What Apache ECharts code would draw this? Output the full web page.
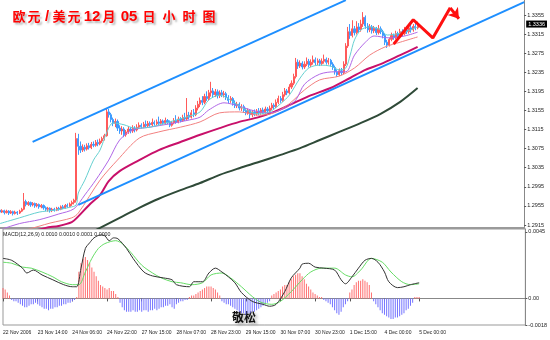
<!DOCTYPE html>
<html><head><meta charset="utf-8">
<script src="https://cdn.jsdelivr.net/npm/echarts/dist/echarts.min.js"></script>
<style>html,body{margin:0;padding:0;background:#fff}#c{width:550px;height:340px}</style>
</head><body><div id="c"></div><script>
// ---------- data ----------
const barCount = 242; // hourly slots on the axis (data fills the first 193)
const tickLabels = ["22 Nov 2006","23 Nov 14:00","24 Nov 06:00","24 Nov 22:00","27 Nov 15:00","28 Nov 07:00","28 Nov 23:00","29 Nov 15:00","30 Nov 07:00","30 Nov 23:00","1 Dec 15:00","4 Dec 00:00","5 Dec 00:00"];
const priceTicks = [1.2915,1.2955,1.2995,1.3035,1.3075,1.3115,1.3155,1.3195,1.3235,1.3275,1.3315,1.3355];
const macdTicks = [0.0045, 0, -0.0018];
const lastPrice = 1.3336;
// [open, close, low, high]
const candles = [
[1.2946,1.2942,1.2938,1.2949],[1.2942,1.2945,1.2940,1.2948],[1.2945,1.2941,1.2937,1.2947],[1.2941,1.2944,1.2939,1.2947],
[1.2944,1.2940,1.2936,1.2946],[1.2940,1.2943,1.2938,1.2946],[1.2943,1.2939,1.2935,1.2945],[1.2939,1.2942,1.2937,1.2945],
[1.2942,1.2940,1.2936,1.2944],[1.2940,1.2944,1.2938,1.2947],[1.2944,1.2948,1.2942,1.2951],[1.2948,1.2964,1.2946,1.2982],
[1.2964,1.2958,1.2954,1.2968],[1.2958,1.2962,1.2955,1.2965],[1.2962,1.2957,1.2953,1.2964],[1.2957,1.2960,1.2954,1.2963],
[1.2960,1.2955,1.2951,1.2962],[1.2955,1.2958,1.2952,1.2961],[1.2958,1.2953,1.2949,1.2960],[1.2953,1.2956,1.2950,1.2959],
[1.2956,1.2951,1.2947,1.2958],[1.2951,1.2948,1.2944,1.2954],[1.2948,1.2950,1.2943,1.2953],[1.2950,1.2945,1.2941,1.2952],
[1.2945,1.2948,1.2942,1.2951],[1.2948,1.2946,1.2943,1.2951],[1.2946,1.2950,1.2944,1.2953],[1.2950,1.2948,1.2945,1.2953],
[1.2948,1.2953,1.2946,1.2956],[1.2953,1.2951,1.2948,1.2957],[1.2951,1.2956,1.2949,1.2959],[1.2956,1.2954,1.2951,1.2960],
[1.2954,1.2959,1.2952,1.2962],[1.2959,1.2962,1.2955,1.2966],[1.2962,1.2967,1.2958,1.2970],[1.2967,1.3096,1.2962,1.3108],
[1.3096,1.3080,1.3062,1.3106],[1.3080,1.3072,1.3066,1.3090],[1.3072,1.3078,1.3068,1.3084],[1.3078,1.3074,1.3069,1.3083],
[1.3074,1.3081,1.3071,1.3086],[1.3081,1.3077,1.3073,1.3087],[1.3077,1.3084,1.3074,1.3089],[1.3084,1.3082,1.3078,1.3090],
[1.3082,1.3088,1.3079,1.3093],[1.3088,1.3085,1.3080,1.3094],[1.3085,1.3091,1.3082,1.3096],[1.3091,1.3096,1.3087,1.3100],
[1.3096,1.3102,1.3092,1.3106],[1.3102,1.3152,1.3100,1.3160],[1.3152,1.3146,1.3140,1.3158],[1.3146,1.3136,1.3130,1.3150],
[1.3136,1.3128,1.3122,1.3140],[1.3128,1.3132,1.3120,1.3138],[1.3132,1.3118,1.3112,1.3136],[1.3118,1.3112,1.3106,1.3124],
[1.3112,1.3116,1.3104,1.3122],[1.3116,1.3104,1.3099,1.3120],[1.3104,1.3110,1.3100,1.3114],[1.3110,1.3116,1.3106,1.3122],
[1.3116,1.3112,1.3107,1.3120],[1.3112,1.3118,1.3108,1.3124],[1.3118,1.3114,1.3109,1.3122],[1.3114,1.3120,1.3111,1.3126],
[1.3120,1.3124,1.3116,1.3130],[1.3124,1.3121,1.3117,1.3128],[1.3121,1.3126,1.3118,1.3131],[1.3126,1.3123,1.3119,1.3134],
[1.3123,1.3128,1.3120,1.3133],[1.3128,1.3125,1.3121,1.3132],[1.3125,1.3130,1.3122,1.3138],[1.3130,1.3127,1.3123,1.3134],
[1.3127,1.3131,1.3124,1.3136],[1.3131,1.3128,1.3124,1.3142],[1.3128,1.3133,1.3125,1.3137],[1.3133,1.3129,1.3125,1.3136],
[1.3129,1.3134,1.3126,1.3140],[1.3134,1.3130,1.3126,1.3137],[1.3130,1.3124,1.3120,1.3134],[1.3124,1.3129,1.3121,1.3133],
[1.3129,1.3134,1.3126,1.3139],[1.3134,1.3131,1.3127,1.3145],[1.3131,1.3137,1.3128,1.3142],[1.3137,1.3134,1.3130,1.3141],
[1.3134,1.3140,1.3131,1.3146],[1.3140,1.3137,1.3133,1.3150],[1.3137,1.3145,1.3134,1.3181],[1.3145,1.3141,1.3136,1.3152],
[1.3141,1.3150,1.3138,1.3156],[1.3150,1.3146,1.3141,1.3158],[1.3146,1.3160,1.3143,1.3166],[1.3160,1.3168,1.3155,1.3175],
[1.3168,1.3176,1.3162,1.3182],[1.3176,1.3172,1.3166,1.3185],[1.3172,1.3184,1.3168,1.3190],[1.3184,1.3180,1.3175,1.3195],
[1.3180,1.3192,1.3176,1.3198],[1.3192,1.3196,1.3184,1.3215],[1.3196,1.3188,1.3182,1.3202],[1.3188,1.3194,1.3183,1.3200],
[1.3194,1.3186,1.3180,1.3199],[1.3186,1.3192,1.3181,1.3197],[1.3192,1.3188,1.3183,1.3198],[1.3188,1.3190,1.3182,1.3196],
[1.3190,1.3182,1.3177,1.3194],[1.3182,1.3176,1.3170,1.3187],[1.3176,1.3180,1.3171,1.3185],[1.3180,1.3170,1.3165,1.3183],
[1.3170,1.3165,1.3160,1.3176],[1.3165,1.3168,1.3160,1.3173],[1.3168,1.3160,1.3155,1.3172],[1.3160,1.3163,1.3154,1.3168],
[1.3163,1.3155,1.3150,1.3167],[1.3155,1.3150,1.3145,1.3160],[1.3150,1.3155,1.3146,1.3159],[1.3155,1.3146,1.3138,1.3158],
[1.3146,1.3152,1.3141,1.3156],[1.3152,1.3148,1.3143,1.3157],[1.3148,1.3154,1.3144,1.3158],[1.3154,1.3150,1.3145,1.3160],
[1.3150,1.3156,1.3146,1.3160],[1.3156,1.3152,1.3147,1.3161],[1.3152,1.3158,1.3148,1.3163],[1.3158,1.3154,1.3149,1.3162],
[1.3154,1.3160,1.3150,1.3165],[1.3160,1.3166,1.3156,1.3171],[1.3166,1.3163,1.3158,1.3170],[1.3163,1.3172,1.3160,1.3178],
[1.3172,1.3180,1.3168,1.3186],[1.3180,1.3176,1.3171,1.3185],[1.3176,1.3188,1.3173,1.3194],[1.3188,1.3196,1.3184,1.3202],
[1.3196,1.3192,1.3187,1.3200],[1.3192,1.3204,1.3189,1.3210],[1.3204,1.3212,1.3200,1.3218],[1.3212,1.3226,1.3208,1.3232],
[1.3226,1.3256,1.3222,1.3265],[1.3256,1.3248,1.3242,1.3262],[1.3248,1.3254,1.3244,1.3260],[1.3254,1.3246,1.3241,1.3258],
[1.3246,1.3252,1.3242,1.3258],[1.3252,1.3258,1.3248,1.3266],[1.3258,1.3250,1.3245,1.3263],[1.3250,1.3256,1.3246,1.3262],
[1.3256,1.3261,1.3251,1.3270],[1.3261,1.3255,1.3250,1.3266],[1.3255,1.3259,1.3250,1.3264],[1.3259,1.3253,1.3248,1.3263],
[1.3253,1.3258,1.3249,1.3264],[1.3258,1.3262,1.3253,1.3272],[1.3262,1.3256,1.3251,1.3266],[1.3256,1.3260,1.3251,1.3265],
[1.3260,1.3252,1.3247,1.3263],[1.3252,1.3245,1.3240,1.3256],[1.3245,1.3236,1.3230,1.3249],[1.3236,1.3230,1.3225,1.3241],
[1.3230,1.3238,1.3227,1.3243],[1.3238,1.3234,1.3229,1.3244],[1.3234,1.3252,1.3231,1.3258],[1.3252,1.3290,1.3248,1.3296],
[1.3290,1.3320,1.3286,1.3330],[1.3320,1.3312,1.3305,1.3336],[1.3312,1.3326,1.3308,1.3344],[1.3326,1.3318,1.3312,1.3332],
[1.3318,1.3330,1.3314,1.3342],[1.3330,1.3324,1.3318,1.3338],[1.3324,1.3336,1.3320,1.3345],[1.3336,1.3350,1.3330,1.3361],
[1.3350,1.3332,1.3326,1.3354],[1.3332,1.3324,1.3318,1.3338],[1.3324,1.3330,1.3319,1.3336],[1.3330,1.3322,1.3316,1.3334],
[1.3322,1.3327,1.3317,1.3332],[1.3327,1.3318,1.3313,1.3330],[1.3318,1.3326,1.3314,1.3334],[1.3326,1.3320,1.3315,1.3331],
[1.3320,1.3312,1.3306,1.3324],[1.3312,1.3298,1.3292,1.3316],[1.3298,1.3292,1.3286,1.3303],[1.3292,1.3304,1.3289,1.3308],
[1.3304,1.3312,1.3300,1.3318],[1.3312,1.3308,1.3303,1.3316],[1.3308,1.3316,1.3304,1.3322],[1.3316,1.3312,1.3307,1.3320],
[1.3312,1.3320,1.3308,1.3326],[1.3320,1.3316,1.3310,1.3325],[1.3316,1.3324,1.3312,1.3330],[1.3324,1.3320,1.3315,1.3332],
[1.3320,1.3328,1.3316,1.3334],[1.3328,1.3324,1.3318,1.3338],[1.3324,1.3331,1.3320,1.3336],[1.3331,1.3328,1.3323,1.3340],
[1.3328,1.3336,1.3325,1.3341]
];
// moving averages as [bar, price]
const maCyan = [[0,1.2918],[9,1.2930],[18,1.2942],[25,1.2946],[32,1.2952],[35,1.2957],[36,1.2982],[39,1.3009],[43,1.3051],[46,1.3072],[49,1.3108],[52,1.3129],[57,1.3125],[62,1.3118],[69,1.3120],[78,1.3131],[87,1.3143],[92,1.3152],[96,1.3177],[101,1.3187],[106,1.3177],[110,1.3164],[115,1.3152],[119,1.3148],[124,1.3152],[129,1.3169],[133,1.3187],[138,1.3223],[142,1.3244],[147,1.3250],[152,1.3248],[156,1.3240],[159,1.3244],[161,1.3271],[163,1.3303],[166,1.3324],[170,1.3330],[175,1.3324],[178,1.3313],[182,1.3315],[186,1.3319],[192,1.3330]];
const maViolet = [[0,1.2905],[9,1.2918],[18,1.2926],[27,1.2938],[34,1.2949],[39,1.2978],[44,1.3009],[50,1.3051],[55,1.3093],[61,1.3114],[69,1.3120],[78,1.3127],[87,1.3135],[92,1.3141],[96,1.3156],[103,1.3171],[110,1.3164],[117,1.3154],[124,1.3150],[131,1.3160],[136,1.3177],[140,1.3210],[147,1.3231],[154,1.3236],[159,1.3236],[163,1.3271],[168,1.3298],[172,1.3311],[179,1.3307],[186,1.3311],[192,1.3319]];
const maSalmon = [[0,1.2895],[12,1.2905],[23,1.2919],[33,1.2930],[36,1.2940],[46,1.3009],[54,1.3051],[64,1.3097],[73,1.3110],[83,1.3120],[92,1.3131],[101,1.3150],[110,1.3152],[119,1.3145],[126,1.3150],[133,1.3169],[140,1.3198],[147,1.3219],[156,1.3227],[163,1.3244],[170,1.3271],[177,1.3288],[184,1.3298],[192,1.3309]];
const maCrimson = [[10,1.2895],[21,1.2909],[27,1.2913],[33,1.2921],[36,1.2933],[41,1.2957],[46,1.2978],[50,1.3007],[55,1.3028],[64,1.3051],[73,1.3072],[83,1.3089],[92,1.3104],[101,1.3118],[110,1.3131],[119,1.3141],[126,1.3152],[133,1.3166],[142,1.3185],[152,1.3202],[161,1.3223],[168,1.3240],[175,1.3252],[184,1.3271],[192,1.3288]];
const maDark = [[40,1.2895],[46,1.2909],[55,1.2930],[64,1.2951],[73,1.2970],[83,1.2988],[92,1.3003],[101,1.3020],[110,1.3034],[119,1.3047],[129,1.3062],[138,1.3076],[147,1.3093],[156,1.3110],[165,1.3127],[175,1.3148],[184,1.3173],[192,1.3202]];
// trend channel and forecast arrow
const channelUpper = [[15,1.3089],[159,1.3386]];
const channelLower = [[36,1.2957],[241,1.3382]];
const forecastPath = [[181,1.3294],[190,1.3345],[199,1.3307],[207,1.3370]];
const forecastTip = [[207,1.3370],[211,1.3347]];
// MACD panel
const macdHist = [
0.0007,0.0006,0.0004,0.0002,
-0.0001,-0.0002,-0.0002,-0.0003,-0.0004,
-0.0005,-0.0006,-0.0006,-0.0005,
-0.0004,-0.0004,-0.0003,-0.0004,-0.0005,-0.0006,
-0.0007,-0.0007,-0.0008,-0.0007,-0.0007,-0.0006,-0.0006,
-0.0005,-0.0005,-0.0004,-0.0004,-0.0003,-0.0003,-0.0002,-0.0001,
0.0001,0.0018,0.0024,0.0027,0.0028,0.0026,0.0024,0.0021,0.0018,0.0015,0.0012,0.0009,0.0008,0.0007,
0.0006,0.0007,0.0005,0.0005,0.0003,0.0001,
-0.0003,-0.0006,-0.0008,-0.0009,-0.0009,-0.0009,-0.0008,-0.0009,-0.0009,-0.0008,-0.0009,-0.0008,-0.0008,-0.0009,-0.0008,-0.0008,-0.0007,-0.0008,
-0.0007,-0.0006,-0.0006,-0.0005,-0.0005,-0.0004,-0.0006,-0.0007,-0.0004,-0.0003,-0.0002,-0.0002,-0.0001,-0.0001,
0.0001,0.0002,0.0002,0.0003,0.0004,0.0005,0.0006,0.0007,0.0008,0.0008,0.0008,0.0007,0.0006,0.0004,0.0002,
-0.0002,-0.0003,-0.0004,-0.0004,-0.0005,-0.0006,-0.0007,-0.0008,-0.0009,-0.0010,-0.0010,-0.0011,-0.0010,-0.0010,-0.0009,-0.0009,-0.0008,-0.0007,-0.0006,-0.0005,-0.0004,-0.0003,-0.0002,
0.0002,0.0003,0.0004,0.0005,0.0006,0.0008,0.0009,0.0009,0.0011,0.0013,0.0015,0.0016,0.0017,0.0017,0.0015,0.0013,0.0010,0.0008,0.0006,0.0004,0.0003,0.0002,0.0001,0.0001,
-0.0001,-0.0002,-0.0003,-0.0004,-0.0006,-0.0008,-0.0010,-0.0011,-0.0009,-0.0006,-0.0004,-0.0002,
0.0004,0.0006,0.0009,0.0011,0.0012,0.0012,0.0013,0.0012,0.0011,0.0009,0.0004,
-0.0002,-0.0004,-0.0006,-0.0008,-0.0010,-0.0011,-0.0012,-0.0013,-0.0014,-0.0014,-0.0013,-0.0013,-0.0012,-0.0011,-0.0010,-0.0008,-0.0007,-0.0005,-0.0003,
0.0001,0.0001,0.0001
];
const macdMain = [[0,0.00271],[4,0.00258],[9,0.00205],[11,0.00172],[14,0.00192],[18,0.00159],[23,0.00126],[28,0.00093],[32,0.00079],[34,0.00079],[36,0.00205],[38,0.00338],[40,0.00377],[42,0.00410],[45,0.00430],[47,0.00424],[49,0.00391],[51,0.00410],[53,0.00404],[57,0.00338],[60,0.00271],[65,0.00179],[69,0.00152],[74,0.00139],[78,0.00126],[80,0.00093],[86,0.00079],[88,0.00113],[92,0.00113],[95,0.00172],[98,0.00205],[101,0.00179],[104,0.00146],[107,0.00106],[110,0.00040],[115,-0.00020],[120,-0.00040],[123,-0.00053],[126,-0.00040],[130,0.00046],[133,0.00139],[137,0.00205],[138,0.00232],[141,0.00238],[144,0.00212],[148,0.00205],[153,0.00192],[156,0.00126],[158,0.00099],[161,0.00146],[164,0.00205],[167,0.00258],[170,0.00271],[173,0.00245],[176,0.00179],[178,0.00113],[182,0.00073],[185,0.00079],[188,0.00093],[192,0.00106]];
const macdSignal = [[0,0.00245],[4,0.00238],[9,0.00212],[13,0.00205],[18,0.00179],[23,0.00146],[27,0.00113],[32,0.00093],[35,0.00093],[38,0.00179],[41,0.00271],[44,0.00338],[47,0.00371],[52,0.00391],[55,0.00371],[59,0.00311],[64,0.00225],[69,0.00172],[73,0.00139],[78,0.00113],[82,0.00106],[87,0.00093],[92,0.00106],[96,0.00159],[101,0.00172],[105,0.00139],[110,0.00079],[115,0.00013],[119,-0.00026],[124,-0.00040],[128,-0.00020],[133,0.00046],[138,0.00126],[142,0.00179],[147,0.00205],[153,0.00205],[158,0.00159],[161,0.00146],[165,0.00192],[170,0.00271],[175,0.00245],[179,0.00179],[184,0.00113],[188,0.00093],[192,0.00099]];
const titleChars = [["欧",16],["元",14],["/",12],["美",12],["元",18],["12",18],["月",16],["05",24],["日",16],["小",24],["时",16],["图",24]];
const macdCaption = "MACD(12,26,9) 0.0010 0.0010 0.0001 0.0000";
const signature = "敬松";

// ---------- chart ----------
const categories = [];
for (let i = 0; i < barCount; i++) categories.push(String(i));
const tickEvery = 16;
const smallFont = "'Liberation Sans',sans-serif";
const priceMin = 1.29087, priceMax = 1.33864;

const rich = {};
let titleText = "";
titleChars.forEach((p, i) => {
  const isDigit = /[0-9\/]/.test(p[0]);
  rich['t' + i] = {
    width: p[1], align: 'center', color: '#ff0000',
    fontSize: isDigit ? 15 : 13,
    fontFamily: isDigit ? "'Liberation Sans',sans-serif" : "'Noto Sans CJK SC',sans-serif",
    textShadowColor: 'rgba(120,120,120,0.55)', textShadowBlur: 2, textShadowOffsetX: 2, textShadowOffsetY: 2
  };
  titleText += '{t' + i + '|' + p[0] + '}';
});

const chart = echarts.init(document.getElementById('c'), null, {renderer: 'canvas'});
const lineS = (data, color, width, smooth) => ({
  type: 'line', xAxisIndex: 0, yAxisIndex: 0, data, showSymbol: false, symbol: 'none',
  smooth: smooth, lineStyle: {color, width}, silent: true, z: 3
});
chart.setOption({
  animation: false,
  backgroundColor: '#fff',
  title: {text: titleText, left: 6, top: 4, textStyle: {rich}},
  grid: [
    {left: -1, right: 24, top: 0, height: 228},
    {left: -1, right: 24, top: 229, height: 96, show: true, borderColor: '#999', borderWidth: 1}
  ],
  xAxis: [
    {type: 'category', gridIndex: 0, data: categories, boundaryGap: false,
     axisLine: {show: true, lineStyle: {color: '#9a9a9a', width: 2}}, axisTick: {show: false}, axisLabel: {show: false}, splitLine: {show: false}},
    {type: 'category', gridIndex: 1, data: categories, boundaryGap: false,
     axisLine: {show: true, lineStyle: {color: '#888', width: 1}},
     axisTick: {show: true, length: 3, lineStyle: {color: '#555'}, interval: (i) => i % tickEvery === 0 && i / tickEvery < tickLabels.length},
     axisLabel: {show: true, align: 'left', margin: 5, fontSize: 5, color: '#222', fontFamily: smallFont,
       interval: (i) => i % tickEvery === 0 && i / tickEvery < tickLabels.length,
       formatter: (v, i) => tickLabels[i / tickEvery] || ''},
     splitLine: {show: false}}
  ],
  yAxis: [
    {type: 'value', gridIndex: 0, position: 'right', min: priceMin, max: priceMax,
     splitLine: {show: false}, axisLine: {show: true, lineStyle: {color: '#888'}},
     axisTick: {show: true, length: 2, customValues: priceTicks, lineStyle: {color: '#555'}},
     axisLabel: {customValues: priceTicks, fontSize: 5.5, color: '#222', margin: 3, fontFamily: smallFont, formatter: v => v.toFixed(4)}},
    {type: 'value', gridIndex: 1, position: 'right', min: -0.0018, max: 0.0047,
     splitLine: {show: false}, axisLine: {show: true, lineStyle: {color: '#888'}},
     axisTick: {show: true, length: 2, customValues: macdTicks, lineStyle: {color: '#555'}},
     axisLabel: {customValues: macdTicks, fontSize: 5.5, color: '#222', margin: 3, fontFamily: smallFont,
       formatter: v => v === 0 ? '0.00' : v.toFixed(4)}},
    {type: 'value', gridIndex: 0, position: 'right', min: priceMin, max: priceMax,
     splitLine: {show: false}, axisLine: {show: false}, axisTick: {show: false},
     axisLabel: {customValues: [lastPrice], fontSize: 5.5, color: '#fff', backgroundColor: '#000', padding: [1, 2, 0, 2],
       margin: 2, fontFamily: smallFont, formatter: v => v.toFixed(4)}}
  ],
  graphic: [
    {type: 'text', left: 3, top: 232, style: {text: macdCaption, fontSize: 5.3, fill: '#222', fontFamily: smallFont}},
    {type: 'text', left: 232, top: 311, style: {text: signature, fontSize: 12, fontWeight: 'bold', fill: '#111',
      fontFamily: "'Noto Sans CJK SC',sans-serif", textShadowColor: 'rgba(120,120,120,0.6)', textShadowBlur: 3, textShadowOffsetX: 2, textShadowOffsetY: 2}}
  ],
  series: [
    {type: 'candlestick', xAxisIndex: 0, yAxisIndex: 0, data: candles, barWidth: 1.6, z: 2,
     itemStyle: {color: '#ff5a5a', color0: '#3d9bff', borderColor: '#ff5a5a', borderColor0: '#3d9bff', borderWidth: 1}},
    lineS(maDark, '#2f4a38', 2, 0.3),
    lineS(maCrimson, '#c8106a', 2, 0.3),
    lineS(maSalmon, '#f28080', 1, 0.3),
    lineS(maViolet, '#b067e6', 1, 0.3),
    lineS(maCyan, '#66d0d0', 1, 0.3),
    lineS(channelUpper, '#1e8fff', 2, false),
    lineS(channelLower, '#1e8fff', 2, false),
    Object.assign(lineS(forecastPath, '#ff1010', 3, false), {z: 6}),
    {type: 'lines', coordinateSystem: 'cartesian2d', xAxisIndex: 0, yAxisIndex: 0, z: 6, silent: true,
     symbol: ['none', 'arrow'], symbolSize: 10, lineStyle: {color: '#ff1010', width: 3, opacity: 1},
     data: [{coords: forecastTip}]},
    {type: 'bar', xAxisIndex: 1, yAxisIndex: 1, data: macdHist, barWidth: 1, silent: true,
     itemStyle: {color: p => p.value >= 0 ? '#ff6f6f' : '#7474ff'}},
    {type: 'line', xAxisIndex: 1, yAxisIndex: 1, data: macdSignal, showSymbol: false, symbol: 'none', smooth: 0.3,
     lineStyle: {color: '#66dd66', width: 1}, silent: true},
    {type: 'line', xAxisIndex: 1, yAxisIndex: 1, data: macdMain, showSymbol: false, symbol: 'none', smooth: 0.3,
     lineStyle: {color: '#333', width: 1}, silent: true}
  ]
});
</script></body></html>
